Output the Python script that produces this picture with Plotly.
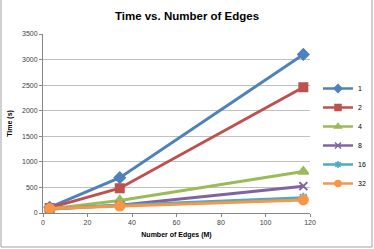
import plotly.graph_objects as go

edges = [3, 34.5, 117]
series_names = ["1", "2", "4", "8", "16", "32"]
s1 = [110, 690, 3100]
s2 = [100, 485, 2460]
s4 = [80, 245, 810]
s8 = [80, 150, 525]
s16 = [80, 150, 300]
s32 = [90, 135, 255]
values = [s1, s2, s4, s8, s16, s32]

colors = ["#4F81BD", "#C0504D", "#9BBB59", "#8064A2", "#4BACC6", "#F79646"]
symbols = ["diamond", "square", "triangle-up", "x-thin", "asterisk", "circle"]
sizes = [8, 8, 9, 8, 8, 9]

fig = go.Figure()
for name, v, c, sym, sz in zip(series_names, values, colors, symbols, sizes):
    fig.add_trace(go.Scatter(
        x=edges, y=v, name=name, mode="lines+markers", showlegend=False,
        line=dict(color=c, width=3),
        marker=dict(symbol=sym, size=sz, color=c, line=dict(color=c, width=2)),
    ))
# legend-only entries (smaller sample markers, as in the original legend)
for name, c, sym in zip(series_names, colors, symbols):
    fig.add_trace(go.Scatter(
        x=[None], y=[None], name=name, mode="lines+markers",
        line=dict(color=c, width=2.5),
        marker=dict(symbol=sym, size=6, color=c, line=dict(color=c, width=1.5)),
    ))

W, H = 374, 249
L, R, T, B = 43, 64, 34, 36
pw, ph = W - L - R, H - T - B

fig.update_layout(
    width=W, height=H,
    margin=dict(l=L, r=R, t=T, b=B, autoexpand=False),
    paper_bgcolor="white", plot_bgcolor="white",
    font=dict(family="Liberation Sans, Arial, sans-serif", size=7, color="#404040"),
    title=dict(text="<b>Time vs. Number of Edges</b>", x=0.5, xanchor="center",
               y=1 - 16 / H, yanchor="middle",
               font=dict(size=11.5, color="#000000", family="Liberation Sans, Arial, sans-serif")),
    xaxis=dict(range=[0, 120], dtick=20, showgrid=False, zeroline=False,
               showline=True, linecolor="#868686", linewidth=1,
               ticks="outside", ticklen=3, tickcolor="#868686",
               title=dict(text="<b>Number of Edges (M)</b>", font=dict(size=7, color="#000000"), standoff=6),
               tickfont=dict(size=7, color="#404040")),
    yaxis=dict(range=[0, 3500], dtick=500, showgrid=True, gridcolor="#C0C0C0", gridwidth=1,
               zeroline=False, showline=True, linecolor="#868686", linewidth=1,
               ticks="outside", ticklen=3, tickcolor="#868686",
               title=dict(text="<b>Time (s)</b>", font=dict(size=7, color="#000000"), standoff=8),
               tickfont=dict(size=7, color="#404040")),
    legend=dict(x=(318 - L) / pw, xanchor="left", y=(H - B - 136) / ph, yanchor="middle",
                font=dict(size=7, color="#000000"), itemwidth=30,
                bgcolor="rgba(0,0,0,0)", tracegroupgap=0),
    showlegend=True,
)

fig.add_shape(type="rect", xref="paper", yref="paper",
              x0=(1 - L) / pw, x1=(W - 2 - L) / pw,
              y0=-(B - 2) / ph, y1=(H - T - 1) / ph,
              line=dict(color="#A0A0A0", width=1), fillcolor="rgba(0,0,0,0)", layer="below")

fig.write_html("out.html", config={"displayModeBar": False},
               post_script="document.body.style.margin='0';")
